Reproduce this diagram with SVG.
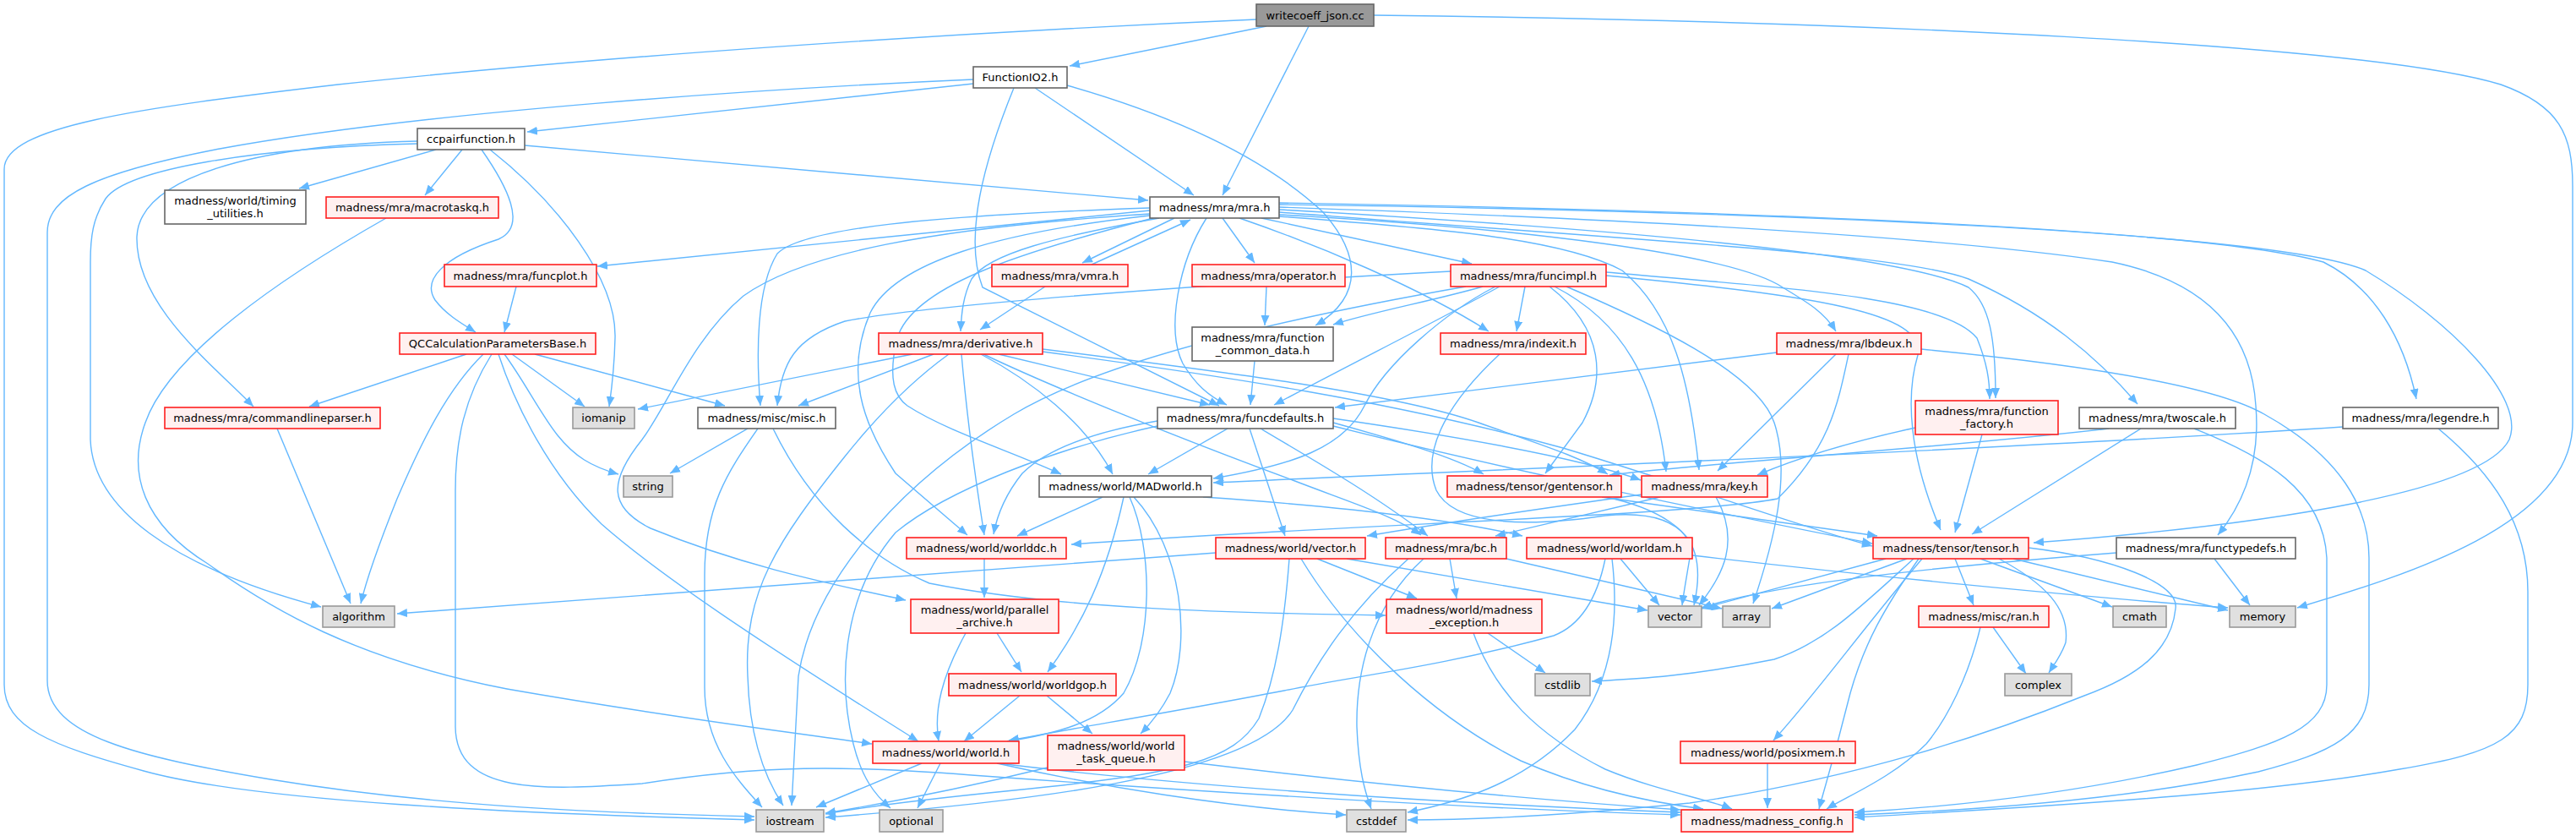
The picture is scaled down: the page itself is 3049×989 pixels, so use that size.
<svg xmlns="http://www.w3.org/2000/svg" width="3049" height="989" viewBox="0 0 3049 989">
<style>
.bg{fill:#ffffff}
.e{fill:none;stroke:#63b8ff;stroke-width:1.4}
.nr rect{fill:#fff0f0;stroke:#ff2020;stroke-width:1.6}
.nw rect{fill:#ffffff;stroke:#666666;stroke-width:1.6}
.ng rect{fill:#e0e0e0;stroke:#999999;stroke-width:1.6}
.nroot rect{fill:#999999;stroke:#666666;stroke-width:1.6}
text{font-family:"DejaVu Sans","Liberation Sans",sans-serif;font-size:13px;fill:#000000;text-anchor:middle}
</style>
<defs>
<marker id="a" viewBox="0 0 12 10" refX="12" refY="5" markerWidth="12" markerHeight="10" markerUnits="userSpaceOnUse" orient="auto"><path d="M0,0 L12,5 L0,10 z" fill="#63b8ff"/></marker>
</defs>
<rect class="bg" x="0" y="0" width="3049" height="989"/>
<g id="edges" marker-end="url(#a)">
<path class="e" marker-end="url(#a)" d="M1487,23 C1100,40 700,68 400,100 C160,128 5,150 5,200 L5,810 C5,860 60,882 170,912 C300,948 600,962 893,970"/>
<path class="e" marker-end="url(#a)" d="M1499,31 L1266,78"/>
<path class="e" marker-end="url(#a)" d="M1549,31 L1447,231"/>
<path class="e" marker-end="url(#a)" d="M1626,18 C2200,25 2800,52 2960,100 C3030,125 3045,160 3045,220 L3045,500 C3045,620 2850,680 2719,719"/>
<path class="e" marker-end="url(#a)" d="M1152,99 L624,156"/>
<path class="e" marker-end="url(#a)" d="M1152,94 C900,105 500,132 260,176 C110,205 56,232 56,275 L56,805 C56,870 160,895 320,922 C520,955 720,962 893,966"/>
<path class="e" marker-end="url(#a)" d="M1225,104 L1413,231"/>
<path class="e" marker-end="url(#a)" d="M1200,104 C1165,190 1140,280 1163,340 L1443,480"/>
<path class="e" marker-end="url(#a)" d="M1263,101 C1400,140 1500,190 1565,250 C1610,300 1615,350 1557,385"/>
<path class="e" marker-end="url(#a)" d="M621,172 L1359,237"/>
<path class="e" marker-end="url(#a)" d="M516,177 L354,223"/>
<path class="e" marker-end="url(#a)" d="M547,177 L503,231"/>
<path class="e" marker-end="url(#a)" d="M570,177 C600,220 625,268 590,283 C522,305 500,332 515,355 C528,372 545,382 563,393"/>
<path class="e" marker-end="url(#a)" d="M580,177 C660,240 730,330 728,400 C727,440 724,460 721,481"/>
<path class="e" marker-end="url(#a)" d="M494,167 C300,172 165,210 162,280 C160,360 250,430 300,481"/>
<path class="e" marker-end="url(#a)" d="M494,170 C300,175 150,200 125,235 C110,258 107,280 107,310 L107,520 C110,600 200,670 380,718"/>
<path class="e" marker-end="url(#a)" d="M457,258 C330,330 200,420 172,500 C150,560 170,620 246,667 C320,720 420,780 600,815 C800,850 950,868 1032,880"/>
<path class="e" marker-end="url(#a)" d="M611,339 L597,393"/>
<path class="e" marker-end="url(#a)" d="M552,419 L366,481"/>
<path class="e" marker-end="url(#a)" d="M572,419 C530,460 500,520 470,590 C450,640 435,680 427,714"/>
<path class="e" marker-end="url(#a)" d="M582,419 C550,470 539,520 539,580 L539,860 C540,940 640,935 760,927 C900,905 1000,905 1150,917 C1400,935 1700,955 1989,964"/>
<path class="e" marker-end="url(#a)" d="M590,419 C610,480 650,560 712,620 C780,680 900,760 1087,877"/>
<path class="e" marker-end="url(#a)" d="M597,419 C620,450 640,490 660,515 C680,540 700,552 732,561"/>
<path class="e" marker-end="url(#a)" d="M633,419 L858,480"/>
<path class="e" marker-end="url(#a)" d="M606,419 L692,481"/>
<path class="e" marker-end="url(#a)" d="M1361,246 C1100,255 950,270 920,300 C895,340 895,420 900,480"/>
<path class="e" marker-end="url(#a)" d="M1361,249 L707,315"/>
<path class="e" marker-end="url(#a)" d="M1361,253 C1100,270 950,300 880,350 C820,400 790,480 760,520 C720,570 720,600 770,625 C880,670 980,690 1072,710"/>
<path class="e" marker-end="url(#a)" d="M1361,255 C1180,275 1060,310 1030,370 C1000,440 1020,500 1060,560 L1145,633"/>
<path class="e" marker-end="url(#a)" d="M1365,258 C1200,300 1080,340 1062,400 C1050,450 1060,470 1074,480 C1120,510 1200,535 1256,561"/>
<path class="e" marker-end="url(#a)" d="M1372,258 C1250,280 1170,300 1150,330 C1140,350 1138,370 1137,392"/>
<path class="e" marker-end="url(#a)" d="M1390,258 L1281,311"/>
<path class="e" marker-end="url(#a)" d="M1292,313 L1409,260"/>
<path class="e" marker-end="url(#a)" d="M1428,258 C1395,310 1380,390 1400,430 C1415,455 1430,468 1452,479"/>
<path class="e" marker-end="url(#a)" d="M1447,258 L1485,311"/>
<path class="e" marker-end="url(#a)" d="M1467,258 C1560,290 1680,340 1762,392"/>
<path class="e" marker-end="url(#a)" d="M1493,258 L1742,312"/>
<path class="e" marker-end="url(#a)" d="M1237,339 L1160,390"/>
<path class="e" marker-end="url(#a)" d="M1499,339 L1497,385"/>
<path class="e" marker-end="url(#a)" d="M1717,321 C1450,335 1100,360 1000,380 C940,400 925,430 920,480"/>
<path class="e" marker-end="url(#a)" d="M1755,339 C1700,355 1620,370 1578,384"/>
<path class="e" marker-end="url(#a)" d="M1775,339 C1700,380 1620,420 1508,479"/>
<path class="e" marker-end="url(#a)" d="M1805,339 L1795,392"/>
<path class="e" marker-end="url(#a)" d="M1735,339 C1500,380 1300,430 1200,490 C1050,580 960,700 945,800 L937,953"/>
<path class="e" marker-end="url(#a)" d="M1834,339 C1900,390 1900,450 1873,500 L1829,560"/>
<path class="e" marker-end="url(#a)" d="M1840,339 C1920,380 1960,450 1972,558"/>
<path class="e" marker-end="url(#a)" d="M1901,322 C2100,340 2300,350 2340,400 C2352,430 2355,450 2355,472"/>
<path class="e" marker-end="url(#a)" d="M1901,326 C2150,350 2280,370 2270,420 C2255,470 2260,540 2297,627"/>
<path class="e" marker-end="url(#a)" d="M1770,339 C1710,370 1640,430 1615,480 C1590,530 1530,550 1436,566"/>
<path class="e" marker-end="url(#a)" d="M1854,339 C1950,380 2080,440 2100,500 C2120,560 2100,640 2075,714"/>
<path class="e" marker-end="url(#a)" d="M1080,419 L755,484"/>
<path class="e" marker-end="url(#a)" d="M1105,419 L945,480"/>
<path class="e" marker-end="url(#a)" d="M1123,419 C1080,450 1040,490 1000,540 C920,640 880,700 885,800 C887,870 905,920 927,953"/>
<path class="e" marker-end="url(#a)" d="M1138,419 C1145,500 1155,570 1165,633"/>
<path class="e" marker-end="url(#a)" d="M1161,419 C1220,450 1285,500 1317,561"/>
<path class="e" marker-end="url(#a)" d="M1164,419 C1250,460 1400,520 1530,568 C1600,595 1650,610 1682,633"/>
<path class="e" marker-end="url(#a)" d="M1182,419 L1432,479"/>
<path class="e" marker-end="url(#a)" d="M1234,413 C1450,440 1650,465 1750,500 C1820,525 1870,540 1903,561"/>
<path class="e" marker-end="url(#a)" d="M1234,416 C1450,445 1650,475 1850,530 C2000,575 2120,620 2216,646"/>
<path class="e" marker-end="url(#a)" d="M1453,507 L1359,561"/>
<path class="e" marker-end="url(#a)" d="M1370,498 C1300,510 1240,530 1210,560 C1190,585 1180,610 1176,632"/>
<path class="e" marker-end="url(#a)" d="M1370,504 C1250,530 1120,580 1060,630 C1000,700 990,800 1010,880 C1020,920 1035,940 1054,956"/>
<path class="e" marker-end="url(#a)" d="M1479,507 L1521,634"/>
<path class="e" marker-end="url(#a)" d="M1492,507 C1530,530 1620,580 1690,634"/>
<path class="e" marker-end="url(#a)" d="M1578,500 C1650,520 1720,540 1756,561"/>
<path class="e" marker-end="url(#a)" d="M1578,495 C1750,520 1880,545 1942,568"/>
<path class="e" marker-end="url(#a)" d="M1578,504 C1800,560 2050,610 2216,643"/>
<path class="e" marker-end="url(#a)" d="M1305,588 L1204,634"/>
<path class="e" marker-end="url(#a)" d="M1330,588 C1310,680 1280,740 1240,795"/>
<path class="e" marker-end="url(#a)" d="M1337,588 C1365,650 1365,760 1330,820 C1300,855 1250,868 1192,877"/>
<path class="e" marker-end="url(#a)" d="M1342,588 C1400,650 1410,760 1385,820 C1372,845 1360,858 1350,868"/>
<path class="e" marker-end="url(#a)" d="M1424,588 C1600,600 1720,615 1802,634"/>
<path class="e" marker-end="url(#a)" d="M1165,661 L1165,707"/>
<path class="e" marker-end="url(#a)" d="M1439,654 L470,726"/>
<path class="e" marker-end="url(#a)" d="M1559,661 L1677,708"/>
<path class="e" marker-end="url(#a)" d="M1540,661 C1600,760 1700,850 1800,900 C1880,935 1960,950 2016,957"/>
<path class="e" marker-end="url(#a)" d="M1594,661 L1950,722"/>
<path class="e" marker-end="url(#a)" d="M1526,661 C1520,740 1510,800 1490,850 C1460,900 1400,915 1200,935 C1100,945 1020,955 977,963"/>
<path class="e" marker-end="url(#a)" d="M1685,661 C1620,720 1605,800 1606,860 C1608,910 1615,935 1623,957"/>
<path class="e" marker-end="url(#a)" d="M1716,661 L1724,708"/>
<path class="e" marker-end="url(#a)" d="M1783,661 L2038,720"/>
<path class="e" marker-end="url(#a)" d="M1667,661 C1600,720 1560,780 1530,840 C1480,920 1200,950 977,967"/>
<path class="e" marker-end="url(#a)" d="M1918,661 L1964,716"/>
<path class="e" marker-end="url(#a)" d="M1908,661 C1915,720 1913,800 1864,863 C1800,930 1720,950 1666,961"/>
<path class="e" marker-end="url(#a)" d="M1900,661 C1890,710 1870,740 1839,752 C1700,790 1600,800 1520,817 C1400,840 1280,860 1194,876"/>
<path class="e" marker-end="url(#a)" d="M2003,657 C2200,680 2450,705 2637,719"/>
<path class="e" marker-end="url(#a)" d="M2314,661 L2336,716"/>
<path class="e" marker-end="url(#a)" d="M2344,661 L2500,718"/>
<path class="e" marker-end="url(#a)" d="M2366,661 C2420,690 2450,720 2445,760 C2440,775 2432,785 2425,796"/>
<path class="e" marker-end="url(#a)" d="M2383,661 L2637,722"/>
<path class="e" marker-end="url(#a)" d="M2401,648 C2500,660 2580,690 2575,720 C2570,770 2530,800 2467,823 C2350,870 2200,920 2000,950 C1850,965 1750,970 1666,970"/>
<path class="e" marker-end="url(#a)" d="M2232,661 L2014,720"/>
<path class="e" marker-end="url(#a)" d="M2257,661 L2097,720"/>
<path class="e" marker-end="url(#a)" d="M2265,661 C2200,720 2160,760 2100,780 C2000,800 1940,803 1884,806"/>
<path class="e" marker-end="url(#a)" d="M2275,661 C2200,750 2150,820 2099,876"/>
<path class="e" marker-end="url(#a)" d="M2271,661 C2230,720 2207,760 2190,820 C2170,900 2160,930 2153,957"/>
<path class="e" marker-end="url(#a)" d="M2359,742 L2398,797"/>
<path class="e" marker-end="url(#a)" d="M2344,742 C2330,800 2305,850 2280,880 C2240,920 2190,940 2162,957"/>
<path class="e" marker-end="url(#a)" d="M2621,661 L2663,716"/>
<path class="e" marker-end="url(#a)" d="M2505,654 C2300,670 2100,690 2014,719"/>
<path class="e" marker-end="url(#a)" d="M2103,417 L1580,482"/>
<path class="e" marker-end="url(#a)" d="M2173,419 L2033,557"/>
<path class="e" marker-end="url(#a)" d="M2188,419 C2175,480 2165,530 2104,590 C2000,610 1600,620 1268,644"/>
<path class="e" marker-end="url(#a)" d="M2274,413 C2450,430 2620,455 2680,490 C2770,540 2804,600 2804,660 L2804,810 C2804,870 2760,890 2673,913 C2500,950 2300,960 2195,964"/>
<path class="e" marker-end="url(#a)" d="M2597,507 C2680,540 2750,580 2754,660 L2754,810 C2754,860 2700,880 2600,905 C2450,940 2300,955 2195,961"/>
<path class="e" marker-end="url(#a)" d="M2886,507 C2950,560 2992,620 2992,700 L2992,810 C2992,870 2960,890 2840,910 C2700,935 2500,950 2195,967"/>
<path class="e" marker-end="url(#a)" d="M2534,507 L2334,632"/>
<path class="e" marker-end="url(#a)" d="M2496,507 C2300,530 2050,545 1905,562"/>
<path class="e" marker-end="url(#a)" d="M2773,505 C2400,530 1900,550 1436,571"/>
<path class="e" marker-end="url(#a)" d="M2346,514 L2314,630"/>
<path class="e" marker-end="url(#a)" d="M2267,506 C2180,525 2120,545 2080,562"/>
<path class="e" marker-end="url(#a)" d="M1514,248 C1900,270 2250,300 2330,340 C2355,360 2362,400 2362,471"/>
<path class="e" marker-end="url(#a)" d="M1514,251 C1950,285 2250,300 2330,330 C2420,370 2480,420 2530,478"/>
<path class="e" marker-end="url(#a)" d="M1514,254 C1800,270 2050,300 2110,340 C2140,358 2160,370 2173,392"/>
<path class="e" marker-end="url(#a)" d="M1514,240 C2000,248 2600,268 2750,310 C2810,340 2845,400 2860,472"/>
<path class="e" marker-end="url(#a)" d="M1514,242 C2100,250 2700,275 2800,320 C2900,380 2990,470 2970,520 C2940,580 2700,620 2407,642"/>
<path class="e" marker-end="url(#a)" d="M1514,245 C1950,260 2300,280 2500,310 C2620,335 2665,400 2670,480 C2675,540 2660,590 2625,633"/>
<path class="e" marker-end="url(#a)" d="M1514,256 C1700,270 1850,282 1920,320 C1980,370 2000,450 2011,556"/>
<path class="e" marker-end="url(#a)" d="M1180,749 L1209,795"/>
<path class="e" marker-end="url(#a)" d="M1143,749 C1115,800 1105,840 1111,877"/>
<path class="e" marker-end="url(#a)" d="M1207,823 L1141,877"/>
<path class="e" marker-end="url(#a)" d="M1239,823 L1293,868"/>
<path class="e" marker-end="url(#a)" d="M1091,903 L966,955"/>
<path class="e" marker-end="url(#a)" d="M1113,903 L1086,956"/>
<path class="e" marker-end="url(#a)" d="M1182,903 C1400,930 1700,950 1989,961"/>
<path class="e" marker-end="url(#a)" d="M1180,903 C1300,930 1450,955 1593,964"/>
<path class="e" marker-end="url(#a)" d="M1402,901 C1600,925 1800,945 1989,958"/>
<path class="e" marker-end="url(#a)" d="M1240,908 C1150,930 1050,950 977,962"/>
<path class="e" marker-end="url(#a)" d="M1761,749 L1829,796"/>
<path class="e" marker-end="url(#a)" d="M1744,749 C1770,820 1820,870 1900,910 C1960,935 2020,945 2050,957"/>
<path class="e" marker-end="url(#a)" d="M2092,903 L2092,956"/>
<path class="e" marker-end="url(#a)" d="M885,507 L793,560"/>
<path class="e" marker-end="url(#a)" d="M897,507 C860,560 834,600 834,680 L834,813 C834,880 870,920 902,955"/>
<path class="e" marker-end="url(#a)" d="M915,507 C960,600 1030,660 1100,690 C1250,720 1450,725 1640,728"/>
<path class="e" marker-end="url(#a)" d="M328,507 L415,714"/>
<path class="e" marker-end="url(#a)" d="M1775,419 C1720,470 1680,530 1700,580 C1720,620 1800,625 1900,610 C2000,600 2020,650 2005,716"/>
<path class="e" marker-end="url(#a)" d="M1965,588 L1770,634"/>
<path class="e" marker-end="url(#a)" d="M2031,588 C2060,640 2040,680 2011,716"/>
<path class="e" marker-end="url(#a)" d="M1943,585 C1800,605 1700,620 1618,634"/>
<path class="e" marker-end="url(#a)" d="M1896,588 L2222,634"/>
<path class="e" marker-end="url(#a)" d="M1900,588 C1960,600 2010,630 2000,660 C1995,690 1993,700 1991,716"/>
<path class="e" marker-end="url(#a)" d="M1485,427 L1480,479"/>
</g>
<g id="n0" class="nroot"><rect x="1487" y="5" width="139" height="26"/><text x="1556.5" y="22.5">writecoeff_json.cc</text></g>
<g id="n1" class="nw"><rect x="1152" y="79" width="111" height="25"/><text x="1207.5" y="96">FunctionIO2.h</text></g>
<g id="n2" class="nw"><rect x="494" y="152" width="127" height="25"/><text x="557.5" y="169">ccpairfunction.h</text></g>
<g id="n3" class="nw"><rect x="1361" y="233" width="153" height="25"/><text x="1437.5" y="250">madness/mra/mra.h</text></g>
<g id="n4" class="nw"><rect x="195" y="225" width="167" height="40"/><text x="278.5" y="241.5">madness/world/timing</text><text x="278.5" y="256.5">_utilities.h</text></g>
<g id="n5" class="nr"><rect x="386" y="233" width="204" height="25"/><text x="488" y="250">madness/mra/macrotaskq.h</text></g>
<g id="n6" class="nr"><rect x="526" y="313" width="180" height="26"/><text x="616" y="330.5">madness/mra/funcplot.h</text></g>
<g id="n7" class="nr"><rect x="1174" y="313" width="161" height="26"/><text x="1254.5" y="330.5">madness/mra/vmra.h</text></g>
<g id="n8" class="nr"><rect x="1411" y="313" width="181" height="26"/><text x="1501.5" y="330.5">madness/mra/operator.h</text></g>
<g id="n9" class="nr"><rect x="1717" y="313" width="184" height="26"/><text x="1809" y="330.5">madness/mra/funcimpl.h</text></g>
<g id="n10" class="nr"><rect x="473" y="394" width="232" height="25"/><text x="589" y="411">QCCalculationParametersBase.h</text></g>
<g id="n11" class="nr"><rect x="1040" y="394" width="194" height="25"/><text x="1137" y="411">madness/mra/derivative.h</text></g>
<g id="n12" class="nw"><rect x="1411" y="387" width="167" height="40"/><text x="1494.5" y="403.5">madness/mra/function</text><text x="1494.5" y="418.5">_common_data.h</text></g>
<g id="n13" class="nr"><rect x="1705" y="394" width="172" height="25"/><text x="1791" y="411">madness/mra/indexit.h</text></g>
<g id="n14" class="nr"><rect x="2103" y="394" width="171" height="25"/><text x="2188.5" y="411">madness/mra/lbdeux.h</text></g>
<g id="n15" class="nr"><rect x="2267" y="474" width="169" height="40"/><text x="2351.5" y="490.5">madness/mra/function</text><text x="2351.5" y="505.5">_factory.h</text></g>
<g id="n16" class="nw"><rect x="2461" y="482" width="185" height="25"/><text x="2553.5" y="499">madness/mra/twoscale.h</text></g>
<g id="n17" class="nw"><rect x="2773" y="482" width="184" height="25"/><text x="2865" y="499">madness/mra/legendre.h</text></g>
<g id="n18" class="nr"><rect x="195" y="482" width="255" height="25"/><text x="322.5" y="499">madness/mra/commandlineparser.h</text></g>
<g id="n19" class="ng"><rect x="678" y="482" width="73" height="25"/><text x="714.5" y="499">iomanip</text></g>
<g id="n20" class="nw"><rect x="826" y="482" width="163" height="25"/><text x="907.5" y="499">madness/misc/misc.h</text></g>
<g id="n21" class="nw"><rect x="1370" y="482" width="208" height="25"/><text x="1474" y="499">madness/mra/funcdefaults.h</text></g>
<g id="n22" class="ng"><rect x="738" y="563" width="58" height="25"/><text x="767" y="580">string</text></g>
<g id="n23" class="nw"><rect x="1230" y="563" width="204" height="25"/><text x="1332" y="580">madness/world/MADworld.h</text></g>
<g id="n24" class="nr"><rect x="1713" y="563" width="206" height="25"/><text x="1816" y="580">madness/tensor/gentensor.h</text></g>
<g id="n25" class="nr"><rect x="1943" y="563" width="149" height="25"/><text x="2017.5" y="580">madness/mra/key.h</text></g>
<g id="n26" class="nr"><rect x="1073" y="636" width="189" height="25"/><text x="1167.5" y="653">madness/world/worlddc.h</text></g>
<g id="n27" class="nr"><rect x="1439" y="636" width="177" height="25"/><text x="1527.5" y="653">madness/world/vector.h</text></g>
<g id="n28" class="nr"><rect x="1640" y="636" width="143" height="25"/><text x="1711.5" y="653">madness/mra/bc.h</text></g>
<g id="n29" class="nr"><rect x="1807" y="636" width="196" height="25"/><text x="1905" y="653">madness/world/worldam.h</text></g>
<g id="n30" class="nr"><rect x="2217" y="636" width="184" height="25"/><text x="2309" y="653">madness/tensor/tensor.h</text></g>
<g id="n31" class="nw"><rect x="2505" y="636" width="212" height="25"/><text x="2611" y="653">madness/mra/functypedefs.h</text></g>
<g id="n32" class="ng"><rect x="382" y="717" width="85" height="25"/><text x="424.5" y="734">algorithm</text></g>
<g id="n33" class="nr"><rect x="1078" y="709" width="175" height="40"/><text x="1165.5" y="725.5">madness/world/parallel</text><text x="1165.5" y="740.5">_archive.h</text></g>
<g id="n34" class="nr"><rect x="1641" y="709" width="184" height="40"/><text x="1733" y="725.5">madness/world/madness</text><text x="1733" y="740.5">_exception.h</text></g>
<g id="n35" class="ng"><rect x="1951" y="717" width="63" height="25"/><text x="1982.5" y="734">vector</text></g>
<g id="n36" class="ng"><rect x="2039" y="717" width="56" height="25"/><text x="2067" y="734">array</text></g>
<g id="n37" class="nr"><rect x="2271" y="717" width="154" height="25"/><text x="2348" y="734">madness/misc/ran.h</text></g>
<g id="n38" class="ng"><rect x="2501" y="717" width="63" height="25"/><text x="2532.5" y="734">cmath</text></g>
<g id="n39" class="ng"><rect x="2639" y="717" width="78" height="25"/><text x="2678" y="734">memory</text></g>
<g id="n40" class="nr"><rect x="1123" y="797" width="198" height="26"/><text x="1222" y="814.5">madness/world/worldgop.h</text></g>
<g id="n41" class="ng"><rect x="1817" y="797" width="65" height="26"/><text x="1849.5" y="814.5">cstdlib</text></g>
<g id="n42" class="ng"><rect x="2373" y="797" width="79" height="26"/><text x="2412.5" y="814.5">complex</text></g>
<g id="n43" class="nr"><rect x="1033" y="877" width="173" height="26"/><text x="1119.5" y="894.5">madness/world/world.h</text></g>
<g id="n44" class="nr"><rect x="1240" y="870" width="162" height="41"/><text x="1321" y="887">madness/world/world</text><text x="1321" y="902">_task_queue.h</text></g>
<g id="n45" class="nr"><rect x="1989" y="877" width="207" height="26"/><text x="2092.5" y="894.5">madness/world/posixmem.h</text></g>
<g id="n46" class="ng"><rect x="895" y="958" width="80" height="26"/><text x="935" y="975.5">iostream</text></g>
<g id="n47" class="ng"><rect x="1041" y="958" width="75" height="26"/><text x="1078.5" y="975.5">optional</text></g>
<g id="n48" class="ng"><rect x="1594" y="958" width="70" height="26"/><text x="1629" y="975.5">cstddef</text></g>
<g id="n49" class="nr"><rect x="1990" y="958" width="203" height="26"/><text x="2091.5" y="975.5">madness/madness_config.h</text></g>
</svg>
